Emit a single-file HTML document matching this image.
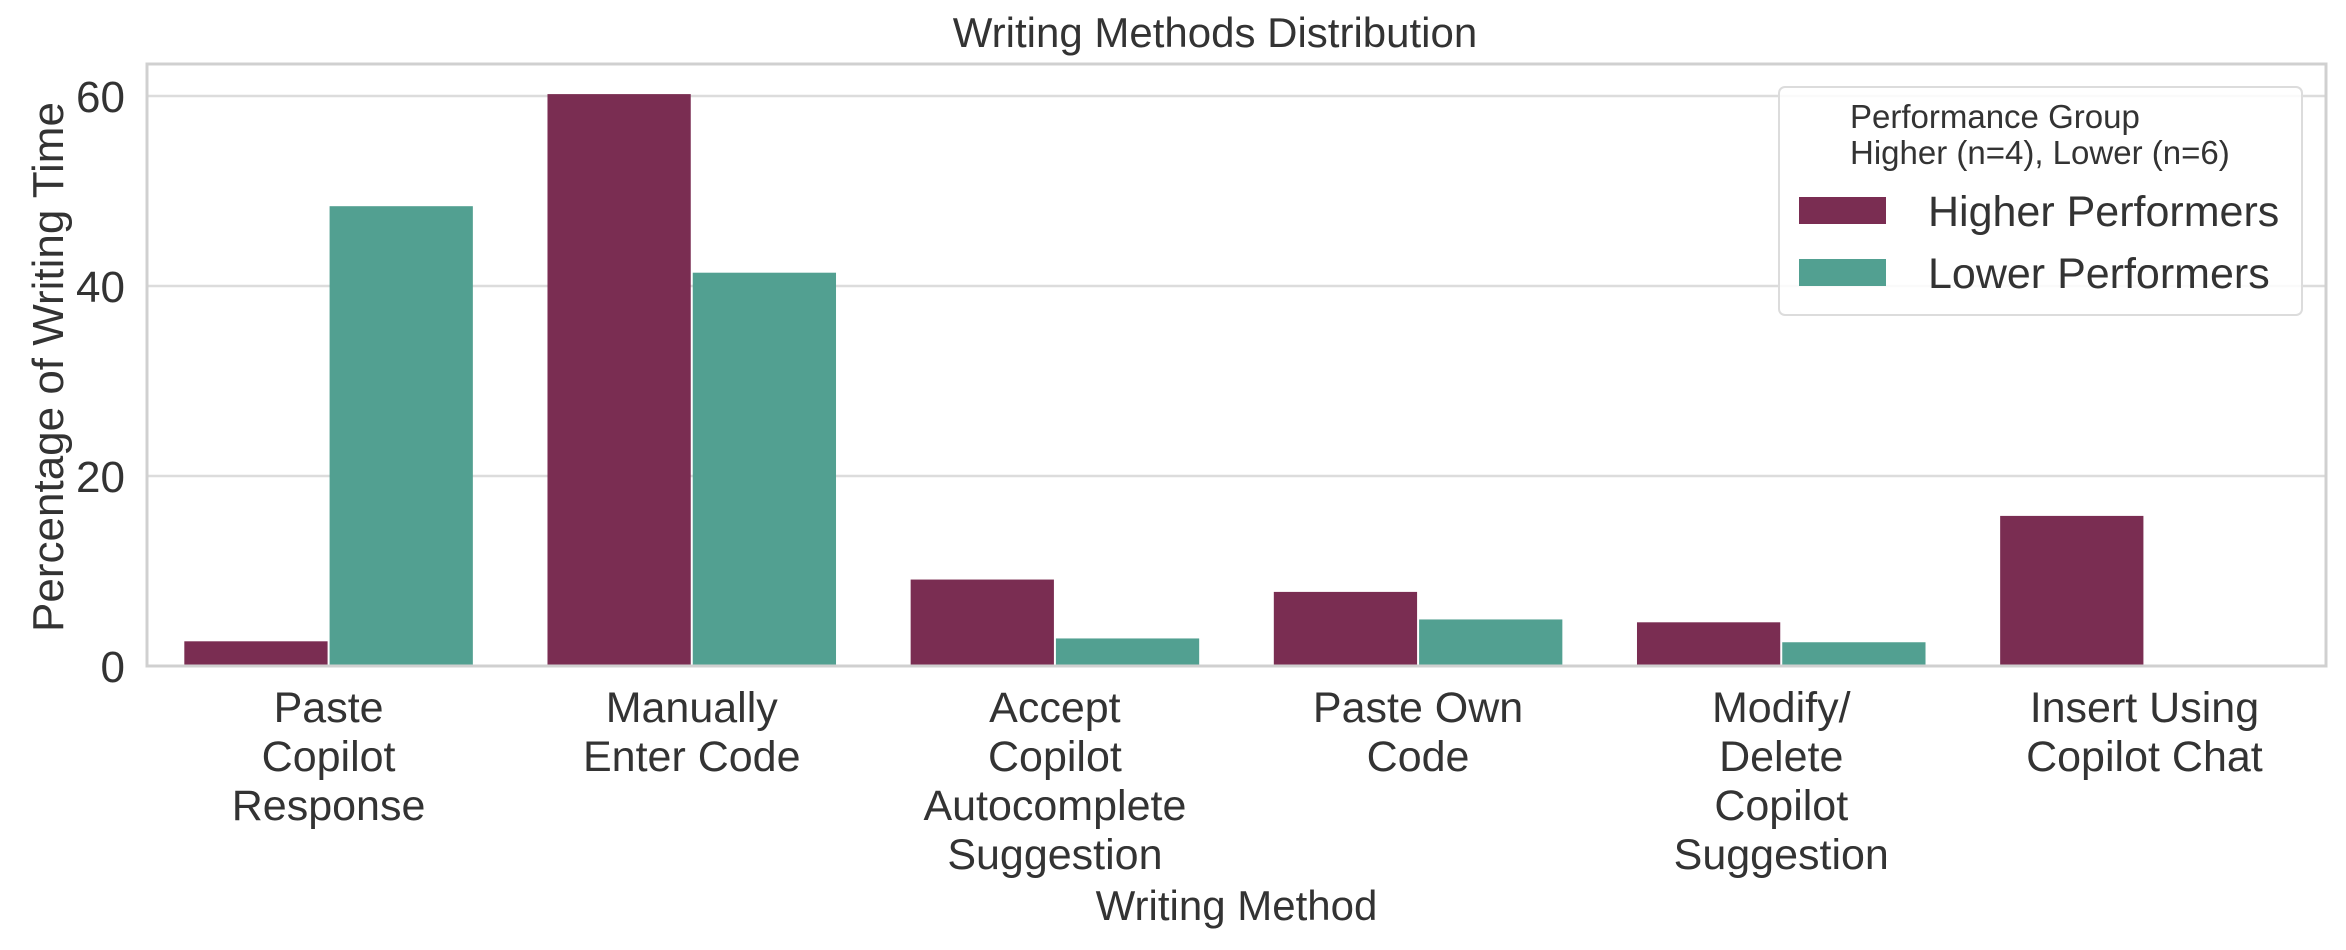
<!DOCTYPE html>
<html><head><meta charset="utf-8"><style>
html,body{margin:0;padding:0;background:#fff;}
svg{display:block;font-family:"Liberation Sans",sans-serif;}
</style></head><body>
<svg id="chart" width="2346" height="950" viewBox="0 0 2346 950"></svg>
<script>
const categories = [["Paste","Copilot","Response"],["Manually","Enter Code"],["Accept","Copilot","Autocomplete","Suggestion"],["Paste Own","Code"],["Modify/","Delete","Copilot","Suggestion"],["Insert Using","Copilot Chat"]];
const higherValues = [2.6, 60.2, 9.1, 7.8, 4.6, 15.8];
const lowerValues = [48.4, 41.4, 2.9, 4.9, 2.5, 0];
const yTicks = [0, 20, 40, 60];
const seriesNames = ["Higher Performers", "Lower Performers"];

const NS = "http://www.w3.org/2000/svg";
const svg = document.getElementById("chart");
const L = 147, R = 2326, T = 64, B = 666;
const yMax = (B - T) / ((B - 96) / 60);
const y = v => B - v / yMax * (B - T);
const band = (R - L) / categories.length;
const x = i => L + band * (i + 0.5);
const barW = band * 0.4;
const colors = ["#7a2d52", "#52a091"];

function mk(tag, attrs, text) {
  const e = document.createElementNS(NS, tag);
  for (const k in attrs) e.setAttribute(k, attrs[k]);
  if (text !== undefined) e.textContent = text;
  svg.appendChild(e);
  return e;
}

yTicks.forEach(t => {
  const g = mk("line", {x1: L, x2: R, y1: y(t), y2: y(t), stroke: "#dcdcdc", "stroke-width": 2.5});
  
  
  const lb = mk("text", {x: L - 22, y: y(t) + 16, "text-anchor": "end", "font-size": 44, fill: "#333"}, String(t));
  
  
});

[higherValues, lowerValues].forEach((vals, s) => {
  vals.forEach((v, i) => {
    const bx = x(i) - barW + s * barW;
    const r = mk("rect", {x: bx + 1, y: y(v), width: barW - 2, height: B - y(v), fill: colors[s]});
    
    
  });
});

const sp = mk("rect", {x: L, y: T, width: R - L, height: B - T, fill: "none", stroke: "#d0d0d0", "stroke-width": 3});



categories.forEach((lines, i) => {
  lines.forEach((ln, j) => {
    const t = mk("text", {x: x(i), y: 722 + j * 49, "text-anchor": "middle", "font-size": 43, fill: "#333"}, ln);
    
    
  });
});

const xt = mk("text", {x: (L + R) / 2, y: 920, "text-anchor": "middle", "font-size": 42, fill: "#333"}, "Writing Method");


const yt = mk("text", {x: 0, y: 0, "text-anchor": "middle", "font-size": 44, fill: "#333", transform: "translate(63," + ((T + B) / 2 + 2) + ") rotate(-90)"}, "Percentage of Writing Time");


const tt = mk("text", {x: 1215, y: 47, "text-anchor": "middle", "font-size": 42, fill: "#333"}, "Writing Methods Distribution");



const lg = mk("rect", {x: 1779, y: 87, width: 523, height: 228, rx: 6, fill: "#fff", "fill-opacity": 0.85, stroke: "#dcdcdc", "stroke-width": 2});


const lt1 = mk("text", {x: 1850, y: 128, "font-size": 33, fill: "#333"}, "Performance Group");


const lt2 = mk("text", {x: 1850, y: 164, "font-size": 33, fill: "#333"}, "Higher (n=4), Lower (n=6)");


seriesNames.forEach((n, s) => {
  const cy = 197 + s * 62;
  const p = mk("rect", {x: 1799, y: cy, width: 87, height: 27, fill: colors[s]});
  
  
  const t = mk("text", {x: 1928, y: cy + 29, "font-size": 43, fill: "#333"}, n);
  
  
});
</script>
</body></html>
